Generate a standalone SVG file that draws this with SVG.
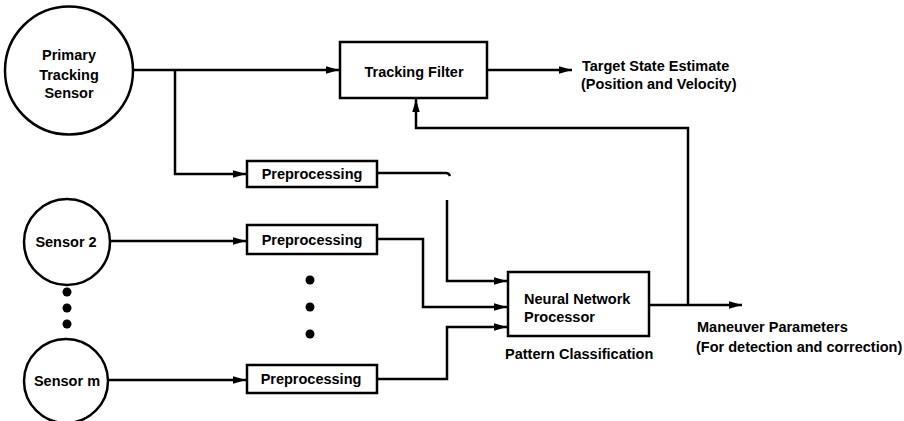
<svg xmlns="http://www.w3.org/2000/svg" width="904" height="421" viewBox="0 0 904 421">
<style>
.n{fill:#fff;stroke:#000;stroke-width:2.5}
.c{fill:none;stroke:#000;stroke-width:2.5}
.t{font-family:"Liberation Sans",Arial,sans-serif;font-weight:bold;font-size:14.5px;fill:#000}
.m{text-anchor:middle}
.d{fill:#000}
</style>
<defs>
<marker id="ah" markerUnits="userSpaceOnUse" markerWidth="14" markerHeight="10" refX="13" refY="4" orient="auto">
<path d="M0,0.3 L13,4 L0,7.7 Z" fill="#000"/>
</marker>
</defs>
<rect width="904" height="421" fill="#fff"/>
<g id="connectors">
<path class="c" d="M134,70 H339" marker-end="url(#ah)"/>
<path class="c" d="M175,70 V174 H246" marker-end="url(#ah)"/>
<path class="c" d="M487,70 H572" marker-end="url(#ah)"/>
<path class="c" d="M688,305 V128 H416 V99" marker-end="url(#ah)"/>
<path class="c" d="M377,173 H446 Q449,173 450,176"/>
<path class="c" d="M447,200 V281 H507" marker-end="url(#ah)"/>
<path class="c" d="M110,241 H246" marker-end="url(#ah)"/>
<path class="c" d="M377,239 H423 V307 H507" marker-end="url(#ah)"/>
<path class="c" d="M108,380 H246" marker-end="url(#ah)"/>
<path class="c" d="M377,379 H447 V327 H507" marker-end="url(#ah)"/>
<path class="c" d="M649,305 H742" marker-end="url(#ah)"/>
</g>
<g id="primary-sensor">
<circle class="n" cx="69" cy="70.5" r="64"/>
<text class="t m" x="69" y="60">Primary</text>
<text class="t m" x="69" y="80">Tracking</text>
<text class="t m" x="69" y="98">Sensor</text>
</g>
<g id="tracking-filter">
<rect class="n" x="340" y="42" width="147" height="56"/>
<text class="t m" x="414" y="77">Tracking Filter</text>
</g>
<g id="target-state-label">
<text class="t" x="582" y="71">Target State Estimate</text>
<text class="t" x="581" y="89">(Position and Velocity)</text>
</g>
<g id="preproc-1">
<rect class="n" x="247" y="161" width="130" height="26"/>
<text class="t m" x="312" y="179">Preprocessing</text>
</g>
<g id="sensor-2">
<circle class="n" cx="67" cy="242" r="43"/>
<text class="t m" x="66" y="247">Sensor 2</text>
</g>
<g id="preproc-2">
<rect class="n" x="247" y="225" width="130" height="29"/>
<text class="t m" x="312" y="245">Preprocessing</text>
</g>
<g id="sensor-dots">
<circle class="d" cx="67" cy="292" r="4.5"/>
<circle class="d" cx="67" cy="308" r="4.5"/>
<circle class="d" cx="67" cy="324" r="4.5"/>
</g>
<g id="preproc-dots">
<circle class="d" cx="310" cy="280" r="4.5"/>
<circle class="d" cx="310" cy="307" r="4.5"/>
<circle class="d" cx="310" cy="334" r="4.5"/>
</g>
<g id="sensor-m">
<circle class="n" cx="66" cy="381" r="42"/>
<text class="t m" x="67" y="386">Sensor m</text>
</g>
<g id="preproc-m">
<rect class="n" x="247" y="365" width="130" height="28"/>
<text class="t m" x="311" y="384">Preprocessing</text>
</g>
<g id="neural-network">
<rect class="n" x="508" y="272" width="141" height="64"/>
<text class="t" x="524" y="304">Neural Network</text>
<text class="t" x="524" y="322">Processor</text>
<text class="t" x="505" y="359">Pattern Classification</text>
</g>
<g id="maneuver-label">
<text class="t" x="697" y="332">Maneuver Parameters</text>
<text class="t" x="696" y="352">(For detection and correction)</text>
</g>
</svg>
